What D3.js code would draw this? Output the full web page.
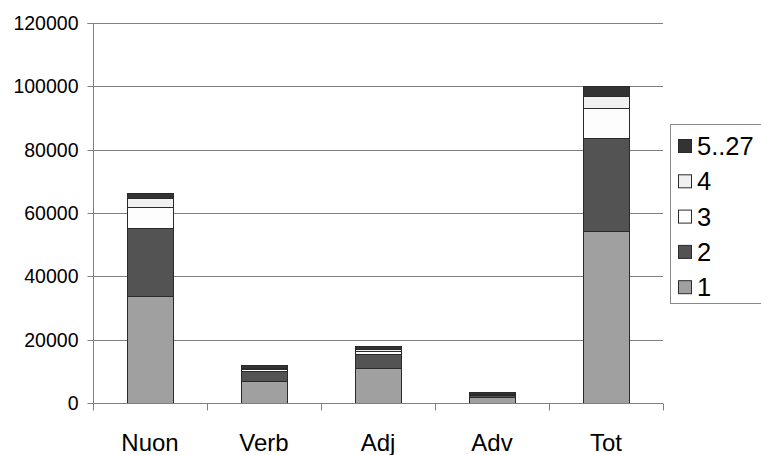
<!DOCTYPE html>
<html>
<head>
<meta charset="utf-8">
<script src="https://cdn.jsdelivr.net/npm/d3@7"></script>
<style>
  html, body { margin: 0; padding: 0; background: #fff; }
  svg { display: block; font-family: "Liberation Sans", Arial, sans-serif; }
</style>
</head>
<body>
<svg id="chart" width="761" height="455"></svg>
<script>
// Word classes along the x axis
const categories = ["Nuon", "Verb", "Adj", "Adv", "Tot"];
// Stack layers, bottom to top
const seriesNames = ["1", "2", "3", "4", "5..27"];
const s1    = [33900, 6900, 11100, 1900, 54300];
const s2    = [21300, 3100, 4300, 700, 29300];
const s3    = [6800, 600, 1000, 100, 9500];
const s4    = [2600, 500, 600, 100, 3900];
const s5_27 = [1600, 1000, 900, 700, 3100];
const yTicks = [0, 20000, 40000, 60000, 80000, 100000, 120000];

const colors = {"1": "#a0a0a0", "2": "#535353", "3": "#fdfdfd", "4": "#f0f0f0", "5..27": "#333333"};

const rows = categories.map((c, i) => ({
  cat: c, "1": s1[i], "2": s2[i], "3": s3[i], "4": s4[i], "5..27": s5_27[i]
}));

const svg = d3.select("#chart");
const plot = {left: 93, right: 663, top: 23, bottom: 403};

const x = d3.scaleBand().domain(categories).range([plot.left, plot.right]);
const y = d3.scaleLinear().domain([0, 120000]).range([plot.bottom, plot.top]);

// horizontal gridlines
svg.append("g").selectAll("line").data(yTicks.filter(d => d > 0)).join("line")
  .attr("x1", plot.left).attr("x2", plot.right)
  .attr("y1", d => Math.round(y(d)) + 0.5).attr("y2", d => Math.round(y(d)) + 0.5)
  .attr("stroke", "#808080").attr("stroke-width", 1);

// stacked bars
const stack = d3.stack().keys(seriesNames)(rows);
const barW = x.bandwidth() * 0.4;
svg.append("g").selectAll("g").data(stack).join("g")
  .attr("fill", d => colors[d.key])
  .selectAll("rect").data(d => d).join("rect")
  .attr("x", d => Math.round(x(d.data.cat) + (x.bandwidth() - barW) / 2) + 0.5)
  .attr("width", Math.round(barW))
  .attr("y", d => Math.round(y(d[1])) + 0.5)
  .attr("height", d => Math.max(0, Math.round(y(d[0])) - Math.round(y(d[1]))))
  .attr("stroke", "#2a2a2a").attr("stroke-width", 1);

// y axis
const yAxis = svg.append("g")
  .attr("transform", `translate(${plot.left + 0.5},0)`)
  .call(d3.axisLeft(y).tickValues(yTicks).tickFormat(d3.format("d")).tickSize(6).tickPadding(9));
yAxis.select(".domain").attr("stroke", "#808080").attr("d", `M-6,${plot.top + 0.5}H0V${plot.bottom + 0.5}`);
yAxis.selectAll(".tick line").attr("stroke", "#808080");
yAxis.selectAll(".tick").attr("transform", d => `translate(0,${Math.round(y(d)) + 0.5})`);
yAxis.selectAll("text").attr("font-size", 19.5).attr("fill", "#000")
  .attr("font-family", "Liberation Sans, Arial, sans-serif");

// x axis
const xAxis = svg.append("g").attr("transform", `translate(0,${plot.bottom + 0.5})`);
xAxis.append("line").attr("x1", plot.left).attr("x2", plot.right).attr("stroke", "#808080");
xAxis.selectAll("line.tk").data(d3.range(categories.length + 1)).join("line")
  .attr("class", "tk")
  .attr("x1", i => Math.round(plot.left + i * x.step()) + 0.5)
  .attr("x2", i => Math.round(plot.left + i * x.step()) + 0.5)
  .attr("y1", 0).attr("y2", 7).attr("stroke", "#808080");
xAxis.selectAll("text").data(categories).join("text")
  .attr("x", d => x(d) + x.bandwidth() / 2)
  .attr("y", 47)
  .attr("text-anchor", "middle")
  .attr("font-size", 24)
  .attr("fill", "#000")
  .text(d => d);

// legend
const legend = svg.append("g");
legend.append("rect")
  .attr("x", 670.5).attr("y", 124.5).attr("width", 95).attr("height", 179)
  .attr("fill", "#fff").attr("stroke", "#8a8a8a");
const items = seriesNames.slice().reverse();
const li = legend.selectAll("g").data(items).join("g")
  .attr("transform", (d, i) => `translate(678,${146 + i * 35.3})`);
li.append("rect")
  .attr("x", 0.5).attr("y", -6.5).attr("width", 13).attr("height", 13)
  .attr("fill", d => colors[d]).attr("stroke", "#2a2a2a");
li.append("text")
  .attr("x", 19).attr("y", 9)
  .attr("font-size", 25.5).attr("fill", "#000")
  .text(d => d);
</script>
</body>
</html>
